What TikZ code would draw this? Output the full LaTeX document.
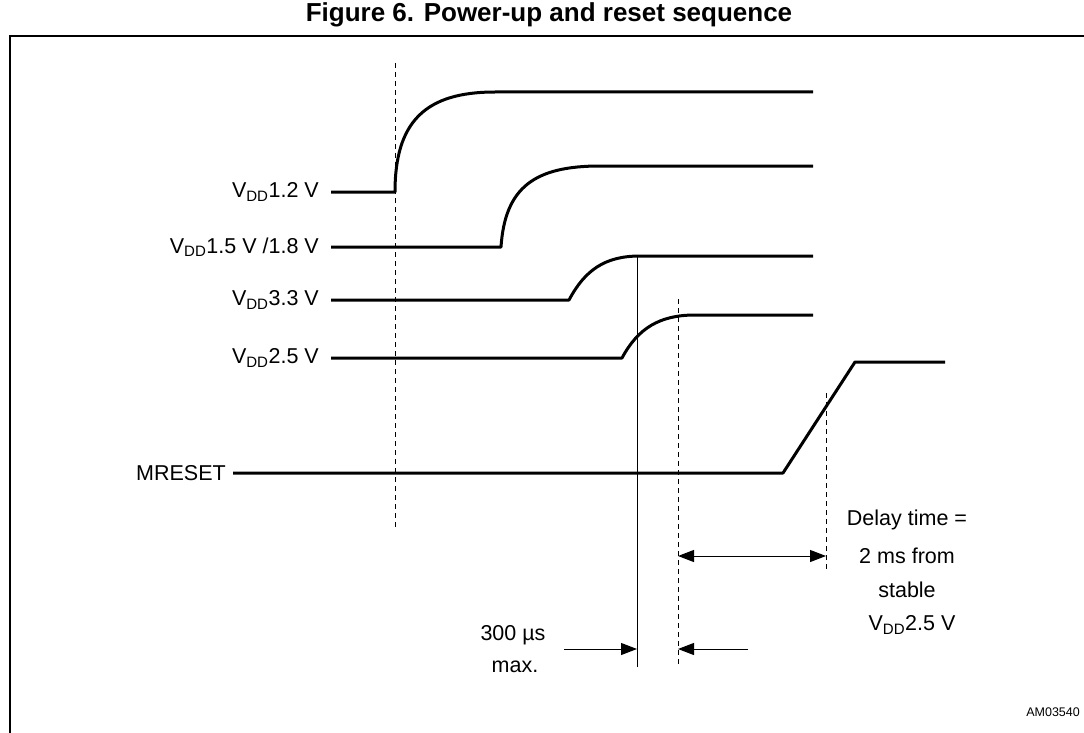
\documentclass[tikz,border=0pt]{standalone}
\usepackage{fontspec}
\setmainfont{Liberation Sans}
\usetikzlibrary{arrows.meta}
\begin{document}
\begin{tikzpicture}[x=1pt,y=-1pt,
  sig/.style={line width=3pt, line join=round},
  thinln/.style={line width=1pt},
  dsh/.style={line width=1pt, dash pattern=on 5pt off 4pt},
  lbl/.style={font=\fontsize{21.5}{24}\selectfont, inner sep=0pt},
  arr/.style={line width=1pt, -{Triangle[length=16pt,width=12pt]}}]
\useasboundingbox (0,0) rectangle (1084,733);
% title and frame
\node[font=\bfseries\fontsize{26}{29}\selectfont, inner sep=0pt] (title) at (549,15) {Figure 6. Power-up and reset sequence};
\draw[line width=2.5pt] (10,740) -- (10,36) -- (1090,36);
% labels
\node[lbl, anchor=east] (l12) at (319,192) {V\textsubscript{DD}1.2 V};
\node[lbl, anchor=east] (l15) at (319,247) {V\textsubscript{DD}1.5 V /1.8 V};
\node[lbl, anchor=east] (l33) at (319,300) {V\textsubscript{DD}3.3 V};
\node[lbl, anchor=east] (l25) at (319,358) {V\textsubscript{DD}2.5 V};
\node[lbl, anchor=east] (lmr) at (226,473) {MRESET};
% guide lines
\draw[dsh] (395,63) -- (395,527);
\draw[thinln] (637,256) -- (637,667);
\draw[dsh] (678,299) -- (678,667);
\draw[dsh] (826,393) -- (826,570);
% signals
\draw[sig] (331,192) -- (395,192) .. controls (395,122) and (425,92) .. (495,92) -- (813,92);
\draw[sig] (331,247) -- (501,247) .. controls (505,187) and (535,166) .. (600,166) -- (813,166);
\draw[sig] (331,300) -- (569,300) .. controls (585,270) and (605,256) .. (640,256) -- (813,256);
\draw[sig] (331,358) -- (622,358) .. controls (638,328) and (660,315) .. (695,315) -- (813,315);
\draw[sig] (233,473) -- (783,473) -- (855,362) -- (945,362);
% delay dimension
\coordinate (d1) at (678,556);
\coordinate (d2) at (826,556);
\draw[thinln, {Triangle[length=16pt,width=12pt]}-{Triangle[length=16pt,width=12pt]}] (d1) -- (d2);
\node[lbl] (t1) at (907,520) {Delay time =};
\node[lbl] (t2) at (907,556) {2 ms from};
\node[lbl] (t3) at (907,590) {stable};
\node[lbl] (t4) at (912,625) {V\textsubscript{DD}2.5 V};
% 300 us
\coordinate (a1) at (564,649);
\coordinate (a2) at (637,649);
\coordinate (b1) at (748,649);
\coordinate (b2) at (678,649);
\draw[arr] (a1) -- (a2);
\draw[arr] (b1) -- (b2);
\node[lbl] (u1) at (513,635) {300 µs};
\node[lbl] (u2) at (515,667) {max.};
\node[font=\fontsize{12.5}{15}\selectfont, anchor=east, inner sep=0pt] (id) at (1080,712) {AM03540};
\end{tikzpicture}
\end{document}
